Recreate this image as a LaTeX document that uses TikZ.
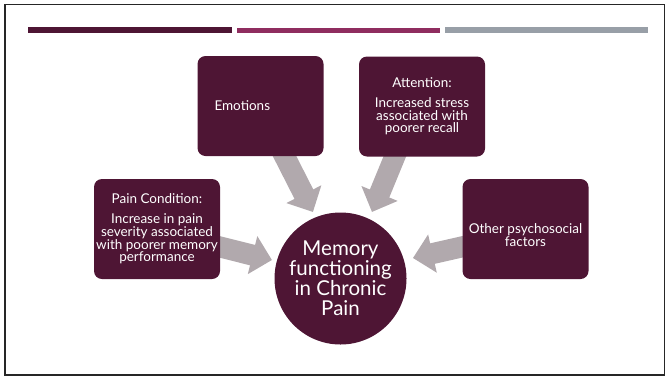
\documentclass[tikz,border=0pt]{standalone}
\usepackage{fontspec}
\setmainfont{Lato}
\usepackage{tikz}
\usetikzlibrary{arrows.meta, positioning, calc, backgrounds}

\definecolor{wine}{RGB}{78,21,52}
\definecolor{berry}{RGB}{143,45,95}
\definecolor{slate}{RGB}{152,159,167}
\definecolor{mist}{RGB}{177,169,173}

\begin{document}
\begin{tikzpicture}[
  x=1pt, y=1pt,
  factor/.style = {
    rectangle,
    fill=wine,
    rounded corners=8pt,
    text=white,
    minimum width=126pt,
    minimum height=100pt,
    inner sep=2pt,
    align=center,
    font=\fontsize{13.5}{12.8}\selectfont
  },
  hub/.style = {
    circle,
    fill=wine,
    text=white,
    minimum size=132pt,
    inner sep=0pt,
    align=center,
    font=\fontsize{20.5}{20}\selectfont
  },
  push/.style = {
    draw=mist,
    line width=21pt,
    -{Triangle[length=20pt, width=38pt]}
  },
  bar/.style = {line width=6pt}
]

\useasboundingbox (0,0) rectangle (668,-378);
\draw[line width=1.6pt, black!85] (5,-4.5) rectangle (664.5,-375);

% ======================================================
% HEADER BARS
% ======================================================

\draw[bar, wine]  (28,-30) -- (232,-30);
\draw[bar, berry, line width=4.5pt] (237,-30.5) -- (440,-30.5);
\draw[bar, slate] (445,-30) -- (648,-30);

% ======================================================
% CENTRE AND FACTORS
% ======================================================

\node[hub] (memory) at (340.5,-278.5) {Memory\\functioning\\in Chronic\\Pain};

\node[factor, text width=92pt, align=left] (emotions) at (260.5,-106) {Emotions};

\node[factor] (attention) at (422,-106.5) {
  Attention:\\[7pt]
  Increased stress\\
  associated with\\
  poorer recall
};

\node[factor] (pain) at (157,-229) {
  Pain Condition:\\[7pt]
  Increase in pain\\
  severity associated\\
  with poorer memory\\
  performance
};

\node[factor] (other) at (525.5,-229) {%
  \raisebox{-8pt}[\height][\depth]{%
    \begin{tabular}{@{}c@{}}Other psychosocial\\factors\end{tabular}}};

% ======================================================
% ARROWS INTO THE CENTRE
% ======================================================

\begin{scope}[on background layer]
  \draw[push] ($(emotions.south)+(20,8)$)  -- ($(memory.center)+(112.5:72)$);
  \draw[push] ($(attention.south)+(-24,8)$) -- ($(memory.center)+(64.7:73.6)$);
  \draw[push] ($(pain.east)+(-8,-16)$)      -- ($(memory.center)+(164.9:71)$);
  \draw[push] ($(other.west)+(8,-16)$)      -- ($(memory.center)+(15.8:75.3)$);
\end{scope}

\end{tikzpicture}
\end{document}
